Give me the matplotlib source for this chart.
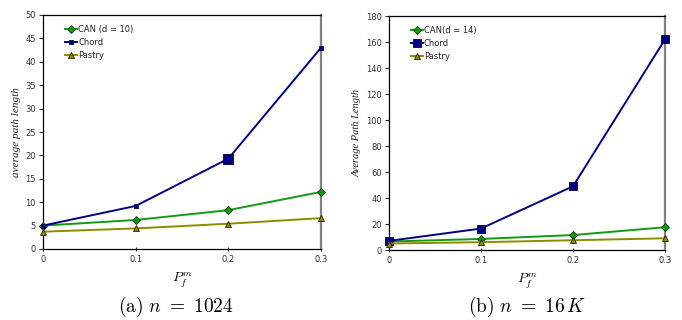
import matplotlib
matplotlib.use("Agg")
import matplotlib.pyplot as plt

plt.rcParams['mathtext.fontset'] = 'cm'

x = [0, 0.1, 0.2, 0.3]
xticks = [0, 0.1, 0.2, 0.3]
xticklabels = ["0", "0.1", "0.2", "0.3"]

can_a = [5.0, 6.2, 8.3, 12.2]
chord_a = [5.0, 9.2, 19.3, 43.0]
pastry_a = [3.7, 4.4, 5.4, 6.6]
yticks_a = list(range(0, 51, 5))

can_b = [6.5, 8.5, 11.5, 17.5]
chord_b = [7.0, 16.5, 49.0, 162.0]
pastry_b = [5.0, 6.0, 7.5, 9.0]
yticks_b = list(range(0, 181, 20))

labels_a = ["CAN (d = 10)", "Chord", "Pastry"]
labels_b = ["CAN(d = 14)", "Chord", "Pastry"]

GREEN = "#139a13"
NAVY = "#000080"
OLIVE = "#8c8c00"

fig = plt.figure(figsize=(6.82, 3.2), dpi=100)
ax1 = fig.add_axes([43/682, 1-249/320, (321-43)/682, (249-15)/320])
ax2 = fig.add_axes([389/682, 1-250/320, (665-389)/682, (250-16)/320])

def style(ax, yt, ylabel, ylfs, chord, can, pastry, labels, big_idx, small_chord_ms):
    ax.plot(x, can, color=GREEN, lw=1.4, marker='D', ms=4, mfc=GREEN, mec="#0a3a0a", mew=0.6, label=labels[0], zorder=3, clip_on=False)
    ax.plot(x, chord, color=NAVY, lw=1.4, marker='s', ms=small_chord_ms, mfc=NAVY, mec="#000040", mew=0.6, label=labels[1], zorder=3, clip_on=False)
    if big_idx:
        ax.plot([x[i] for i in big_idx], [chord[i] for i in big_idx], ls='none', marker='s', ms=6.5, mfc=NAVY, mec="#000040", mew=0.6, zorder=4, clip_on=False)
    ax.plot(x, pastry, color=OLIVE, lw=1.4, marker='^', ms=5, mfc=OLIVE, mec="#222200", mew=0.6, label=labels[2], zorder=3, clip_on=False)
    ax.set_xlim(0, 0.3)
    ax.set_ylim(yt[0], yt[-1])
    ax.set_xticks(xticks)
    ax.set_xticklabels(xticklabels)
    ax.set_yticks(yt)
    ax.tick_params(axis='both', labelsize=6, colors='#333333', length=3, width=0.8)
    ax.tick_params(axis='x', direction='inout', pad=3)
    ax.tick_params(axis='y', direction='out', pad=2)
    for s in ['left', 'bottom', 'top']:
        ax.spines[s].set_color('black')
        ax.spines[s].set_linewidth(0.9)
    ax.spines['right'].set_color('#808080')
    ax.spines['right'].set_linewidth(1.6)
    ax.set_ylabel(ylabel, fontsize=ylfs, family='Liberation Serif', style='italic', color='#222222', labelpad=3)
    ax.set_xlabel(r"$P_f^m$", fontsize=10, labelpad=4)
    leg = ax.legend(loc='upper left', bbox_to_anchor=(0.06, 0.98), frameon=False, fontsize=6,
                    handlelength=1.5, handletextpad=0.1, labelspacing=0.5, borderaxespad=0.2)
    for t in leg.get_texts():
        t.set_color('#222222')

style(ax1, yticks_a, "average path length", 8, chord_a, can_a, pastry_a, labels_a, [2], 3.5)
style(ax2, yticks_b, "Average Path Length", 7.5, chord_b, can_b, pastry_b, labels_b, [], 6)

fig.text(176/682, 1-307/320, r"$\mathrm{(a)}\ n\ =\ 1024$", fontsize=14, ha='center', va='center')
fig.text(527/682, 1-307/320, r"$\mathrm{(b)}\ n\ =\ 16\,K$", fontsize=14, ha='center', va='center')

fig.savefig("out.png", dpi=100)
